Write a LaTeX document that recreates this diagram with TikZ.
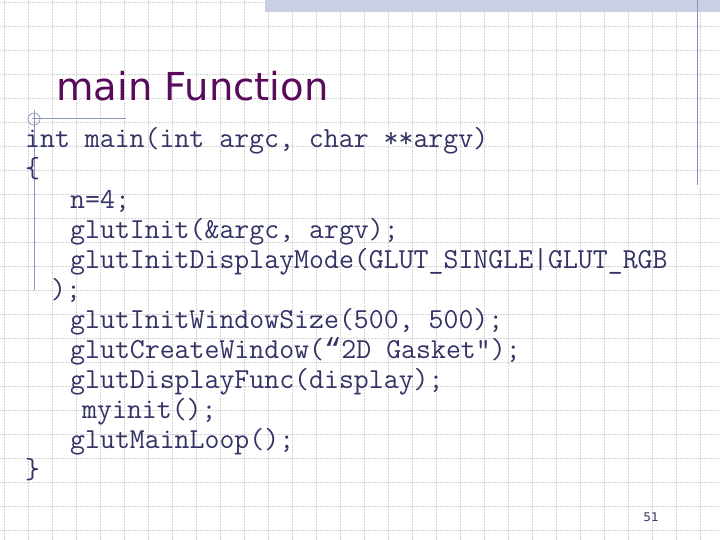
\documentclass[tikz,border=0pt]{standalone}
\usepackage{fontspec}
\newfontfamily\titlefont{DejaVu Sans}
\newfontfamily\quotefont{Liberation Mono}
\begin{document}
\begin{tikzpicture}[x=1pt,y=-1pt,
  code/.style={anchor=base west,inner sep=0pt,font=\ttfamily\fontsize{29}{30}\selectfont,text=codecol},
  deco/.style={draw=decocol,line width=1pt}]
\definecolor{codecol}{HTML}{333366}
\definecolor{decocol}{HTML}{8A96C0}
\definecolor{gridcol}{HTML}{D4D4D4}
\useasboundingbox (0,0) rectangle (720,540);
\fill[white] (0,0) rectangle (720,540);
\foreach \i in {0,...,30} \draw[gridcol,densely dotted,line width=0.5pt] (\i*24+4,0) -- (\i*24+4,540);
\foreach \i in {0,...,22} \draw[gridcol,densely dotted,line width=0.5pt] (0,\i*24+2) -- (720,\i*24+2);
\fill[decocol!45] (265,0) rectangle (720,12);
\draw[deco] (697,0) -- (697,185);
\draw[deco] (32,119) -- (126,119);
\draw[deco] (34,110) -- (34,290);
\draw[decocol,line width=0.7pt] (34,119) circle (6);
\node[anchor=base west,inner sep=0pt,text={rgb,255:red,90;green,10;blue,90},font=\titlefont\fontsize{38.5}{40}\selectfont] (title) at (56,101) {main Function};
\node[code] (l1) at (25,148) {int main(int argc, char **argv)};
\node[code] (l2) at (25,178) {\{};
\node[code] (l3) at (70,208) {n=4;};
\node[code] (l4) at (70,238) {glutInit(\&argc, argv);};
\node[code] (l5) at (70,268) {glutInitDisplayMode(GLUT\_SINGLE|GLUT\_RGB};
\node[code] (l6) at (51,298) {);};
\node[code] (l7) at (70,328) {glutInitWindowSize(500, 500);};
\node[code] (l8) at (70,358) {glutCreateWindow({\quotefont\fontsize{29}{30}\selectfont“}2D Gasket");};
\node[code] (l9) at (70,388) {glutDisplayFunc(display);};
\node[code] (l10) at (82,418) {myinit();};
\node[code] (l11) at (70,448) {glutMainLoop();};
\node[code] (l12) at (25,478) {\}};
\node[anchor=base,inner sep=0pt,text=codecol,font=\titlefont\fontsize{12}{14}\selectfont] (pg) at (651,521) {51};
\end{tikzpicture}
\end{document}
